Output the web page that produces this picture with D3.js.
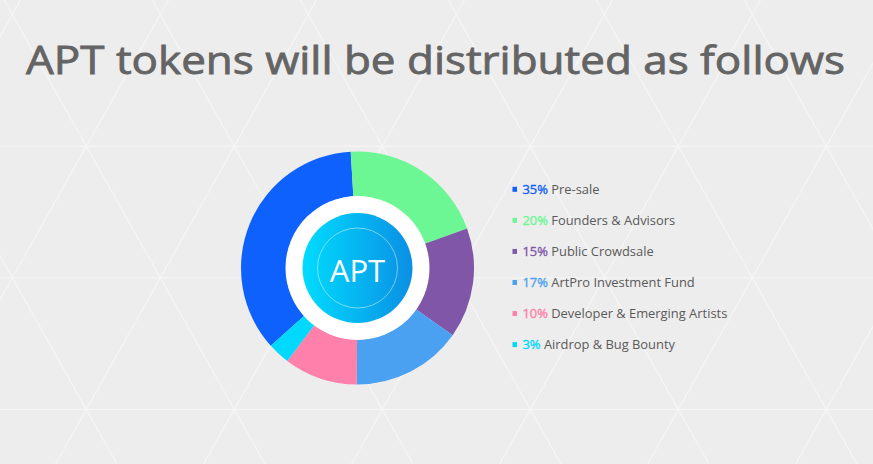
<!DOCTYPE html>
<html>
<head>
<meta charset="utf-8">
<script src="https://cdn.jsdelivr.net/npm/d3@7/dist/d3.min.js"></script>
<style>
  html, body { margin: 0; padding: 0; background: #ededed; }
  svg { display: block; }
</style>
</head>
<body>
<svg id="chart" width="873" height="464"></svg>
<script>
// ---- data ----
const titleText = "APT tokens will be distributed as follows";
const centerLabel = "APT";
const categories = ["Pre-sale", "Founders & Advisors", "Public Crowdsale", "ArtPro Investment Fund", "Developer & Emerging Artists", "Airdrop & Bug Bounty"];
const percentLabels = ["35%", "20%", "15%", "17%", "10%", "3%"];
// slice sizes as drawn in the picture
const sliceValues = [35, 20, 15, 15, 10, 3];
const colors = ["#0f61fe", "#6cf794", "#7f56a8", "#4ba1f1", "#ff80aa", "#00d8fe"];

// ---- setup ----
const W = 873, H = 464;
const svg = d3.select("#chart");

// background
svg.append("rect").attr("width", W).attr("height", H).attr("fill", "#ededed");
const bg = svg.append("g").attr("stroke", "#f5f5f5").attr("stroke-width", 1.3).attr("fill", "none");
const rowH = 131.6, colW = 148, y0 = 14.6, x0 = 12.3, halfW = 74;
const slope = halfW / rowH;
[1, 2, 3].forEach(n => {
  bg.append("line").attr("x1", 0).attr("x2", W).attr("y1", y0 + rowH * n).attr("y2", y0 + rowH * n);
});
d3.range(-6, 14).forEach(k => {
  const xa = x0 + colW * k;
  const ya = -40, yb = 520;
  bg.append("line").attr("x1", xa + (ya - y0) * slope).attr("y1", ya)
    .attr("x2", xa + (yb - y0) * slope).attr("y2", yb);
  bg.append("line").attr("x1", xa - (ya - y0) * slope).attr("y1", ya)
    .attr("x2", xa - (yb - y0) * slope).attr("y2", yb);
});

// title
svg.append("text")
  .attr("x", 435.5).attr("y", 73.5)
  .attr("text-anchor", "middle")
  .attr("font-family", "'Open Sans', sans-serif")
  .attr("font-size", 37.5)
  .attr("font-weight", 400)
  .attr("fill", "#646464")
  .attr("stroke", "#646464")
  .attr("stroke-width", 0.8)
  .attr("textLength", 819)
  .attr("lengthAdjust", "spacingAndGlyphs")
  .text(titleText);

// donut
const cx = 357.5, cy = 268;
const g = svg.append("g").attr("transform", `translate(${cx},${cy})`);
const startA = -131.9 * Math.PI / 180;
const pie = d3.pie().sort(null).value(d => d)
  .startAngle(startA).endAngle(startA + 2 * Math.PI);
const arc = d3.arc().innerRadius(71.5).outerRadius(116.5);
g.selectAll("path.slice").data(pie(sliceValues)).join("path")
  .attr("class", "slice")
  .attr("d", arc)
  .attr("fill", (d, i) => colors[i]);

g.append("circle").attr("r", 72).attr("fill", "#ffffff");

const defs = svg.append("defs");
const grad = defs.append("linearGradient").attr("id", "cgrad")
  .attr("x1", "0%").attr("x2", "100%").attr("y1", "0%").attr("y2", "0%");
grad.append("stop").attr("offset", "0%").attr("stop-color", "#00dcfe");
grad.append("stop").attr("offset", "100%").attr("stop-color", "#0b8fe4");

g.append("circle").attr("r", 55).attr("fill", "url(#cgrad)");
g.append("circle").attr("r", 40).attr("fill", "none")
  .attr("stroke", "rgba(255,255,255,0.45)").attr("stroke-width", 1);
g.append("text")
  .attr("x", 0).attr("y", 13.7)
  .attr("text-anchor", "middle")
  .attr("font-family", "'Open Sans', sans-serif")
  .attr("font-size", 31)
  .attr("font-weight", 400)
  .attr("fill", "#ffffff")
  .text(centerLabel);

// legend
const ly = d3.scaleLinear().domain([0, categories.length - 1]).range([189.3, 344.6]);
const leg = svg.append("g");
const items = leg.selectAll("g.item").data(categories).join("g")
  .attr("class", "item")
  .attr("transform", (d, i) => `translate(512.5,${ly(i)})`);
items.append("rect").attr("x", 0).attr("y", -2.5).attr("width", 4.5).attr("height", 5)
  .attr("fill", (d, i) => colors[i]);
const t = items.append("text")
  .attr("x", 10).attr("y", 4.6)
  .attr("font-family", "'Open Sans', sans-serif")
  .attr("font-size", 12.9);
t.append("tspan").attr("fill", (d, i) => colors[i])
  .attr("stroke", (d, i) => colors[i]).attr("stroke-width", 0.35)
  .text((d, i) => percentLabels[i]);
t.append("tspan").attr("fill", "#5a5a5a").text(d => " " + d);
</script>
</body>
</html>
